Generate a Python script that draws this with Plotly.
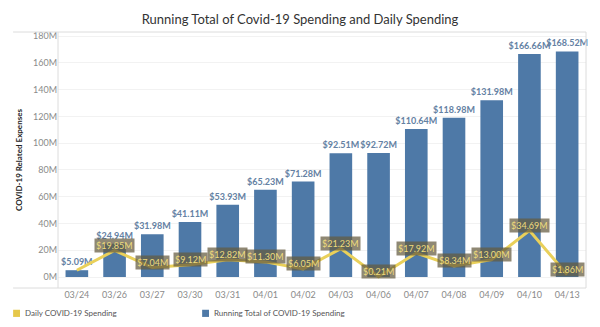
import plotly.graph_objects as go

# Reporting dates
dates = ["03/24", "03/26", "03/27", "03/30", "03/31", "04/01", "04/02",
         "04/03", "04/06", "04/07", "04/08", "04/09", "04/10", "04/13"]

# Running total of COVID-19 spending, in millions of dollars
running_total = [5.09, 24.94, 31.98, 41.11, 53.93, 65.23, 71.28,
                 92.51, 92.72, 110.64, 118.98, 131.98, 166.66, 168.52]

# Daily COVID-19 spending, in millions of dollars
daily = [5.09, 19.85, 7.04, 9.12, 12.82, 11.30, 6.05,
         21.23, 0.21, 17.92, 8.34, 13.00, 34.69, 1.86]

y_ticks = [0, 20, 40, 60, 80, 100, 120, 140, 160, 180]

BLUE = "#4e79a7"
YELLOW = "#e9d05a"
GREY_TXT = "#8a8a8a"
FONT = "Lato, 'Open Sans', sans-serif"

fig = go.Figure()

fig.add_trace(go.Bar(
    x=dates, y=running_total, name="Running Total of COVID-19 Spending",
    marker=dict(color=BLUE, line=dict(width=0)), width=0.6,
    text=[f"<b>${v:.2f}M</b>" for v in running_total], textposition="outside",
    constraintext="none", cliponaxis=False,
    textfont=dict(family=FONT, size=9, color="#6481a3"),
    showlegend=False,
))

fig.add_trace(go.Scatter(
    x=dates, y=daily, mode="lines", name="Daily COVID-19 Spending",
    line=dict(color=YELLOW, width=3), showlegend=False,
))

# Boxed value labels on the daily line (first point coincides with the bar label)
for d, v in zip(dates[1:], daily[1:]):
    fig.add_annotation(
        x=d, y=v, text=f"${v:.2f}M", showarrow=False, yshift=5,
        font=dict(family=FONT, size=9, color="#eedb7c"),
        bgcolor="rgba(100,90,62,0.72)", borderpad=1,
    )

# Frame lines around the plot
frame = dict(color="#dcdcdc", width=1)
fig.add_shape(type="line", xref="paper", yref="paper", x0=-0.085, x1=1, y0=1, y1=1, line=frame)
fig.add_shape(type="line", xref="paper", yref="paper", x0=-0.085, x1=1, y0=0, y1=0, line=frame)
fig.add_shape(type="line", xref="paper", yref="paper", x0=1, x1=1, y0=0, y1=1, line=frame)
fig.add_shape(type="line", xref="paper", yref="paper", x0=0, x1=0, y0=0, y1=1, line=frame)

# Legend drawn beneath the chart
legend_items = [("Daily COVID-19 Spending", "#e6c84a", -0.085),
                ("Running Total of COVID-19 Spending", BLUE, 0.273)]
for label, color, x0 in legend_items:
    fig.add_shape(type="rect", xref="paper", yref="paper",
                  x0=x0, x1=x0 + 0.013, y0=-0.085, y1=-0.113,
                  fillcolor=color, line=dict(width=0))
    fig.add_annotation(xref="paper", yref="paper", x=x0 + 0.019, y=-0.099,
                       text=label, showarrow=False, xanchor="left", yanchor="middle",
                       font=dict(family=FONT, size=8, color="#555555"))

fig.update_layout(
    width=600, height=327,
    margin=dict(l=58, r=14, t=32, b=39),
    paper_bgcolor="white", plot_bgcolor="white",
    title=dict(text="Running Total of Covid-19 Spending and Daily Spending",
               x=0.5, xanchor="center", y=0.94, yanchor="middle",
               font=dict(family=FONT, size=13, color="#333333")),
    barmode="overlay",
    font=dict(family=FONT),
    xaxis=dict(type="category", showgrid=False, zeroline=False, showline=False,
               ticks="", tickfont=dict(family=FONT, size=9, color=GREY_TXT),
               range=[-0.5, 13.5]),
    yaxis=dict(range=[-8.2, 183], tickvals=y_ticks,
               ticktext=[f"{t}M" for t in y_ticks],
               showgrid=True, gridcolor="#f2f2f2", gridwidth=1,
               zeroline=False, showline=False, ticks="",
               tickfont=dict(family=FONT, size=9, color=GREY_TXT),
               title=dict(text="<b>COVID-19 Related Expenses</b>",
                          font=dict(family=FONT, size=8, color="#222222"),
                          standoff=9)),
)

fig.write_html("out.html")
